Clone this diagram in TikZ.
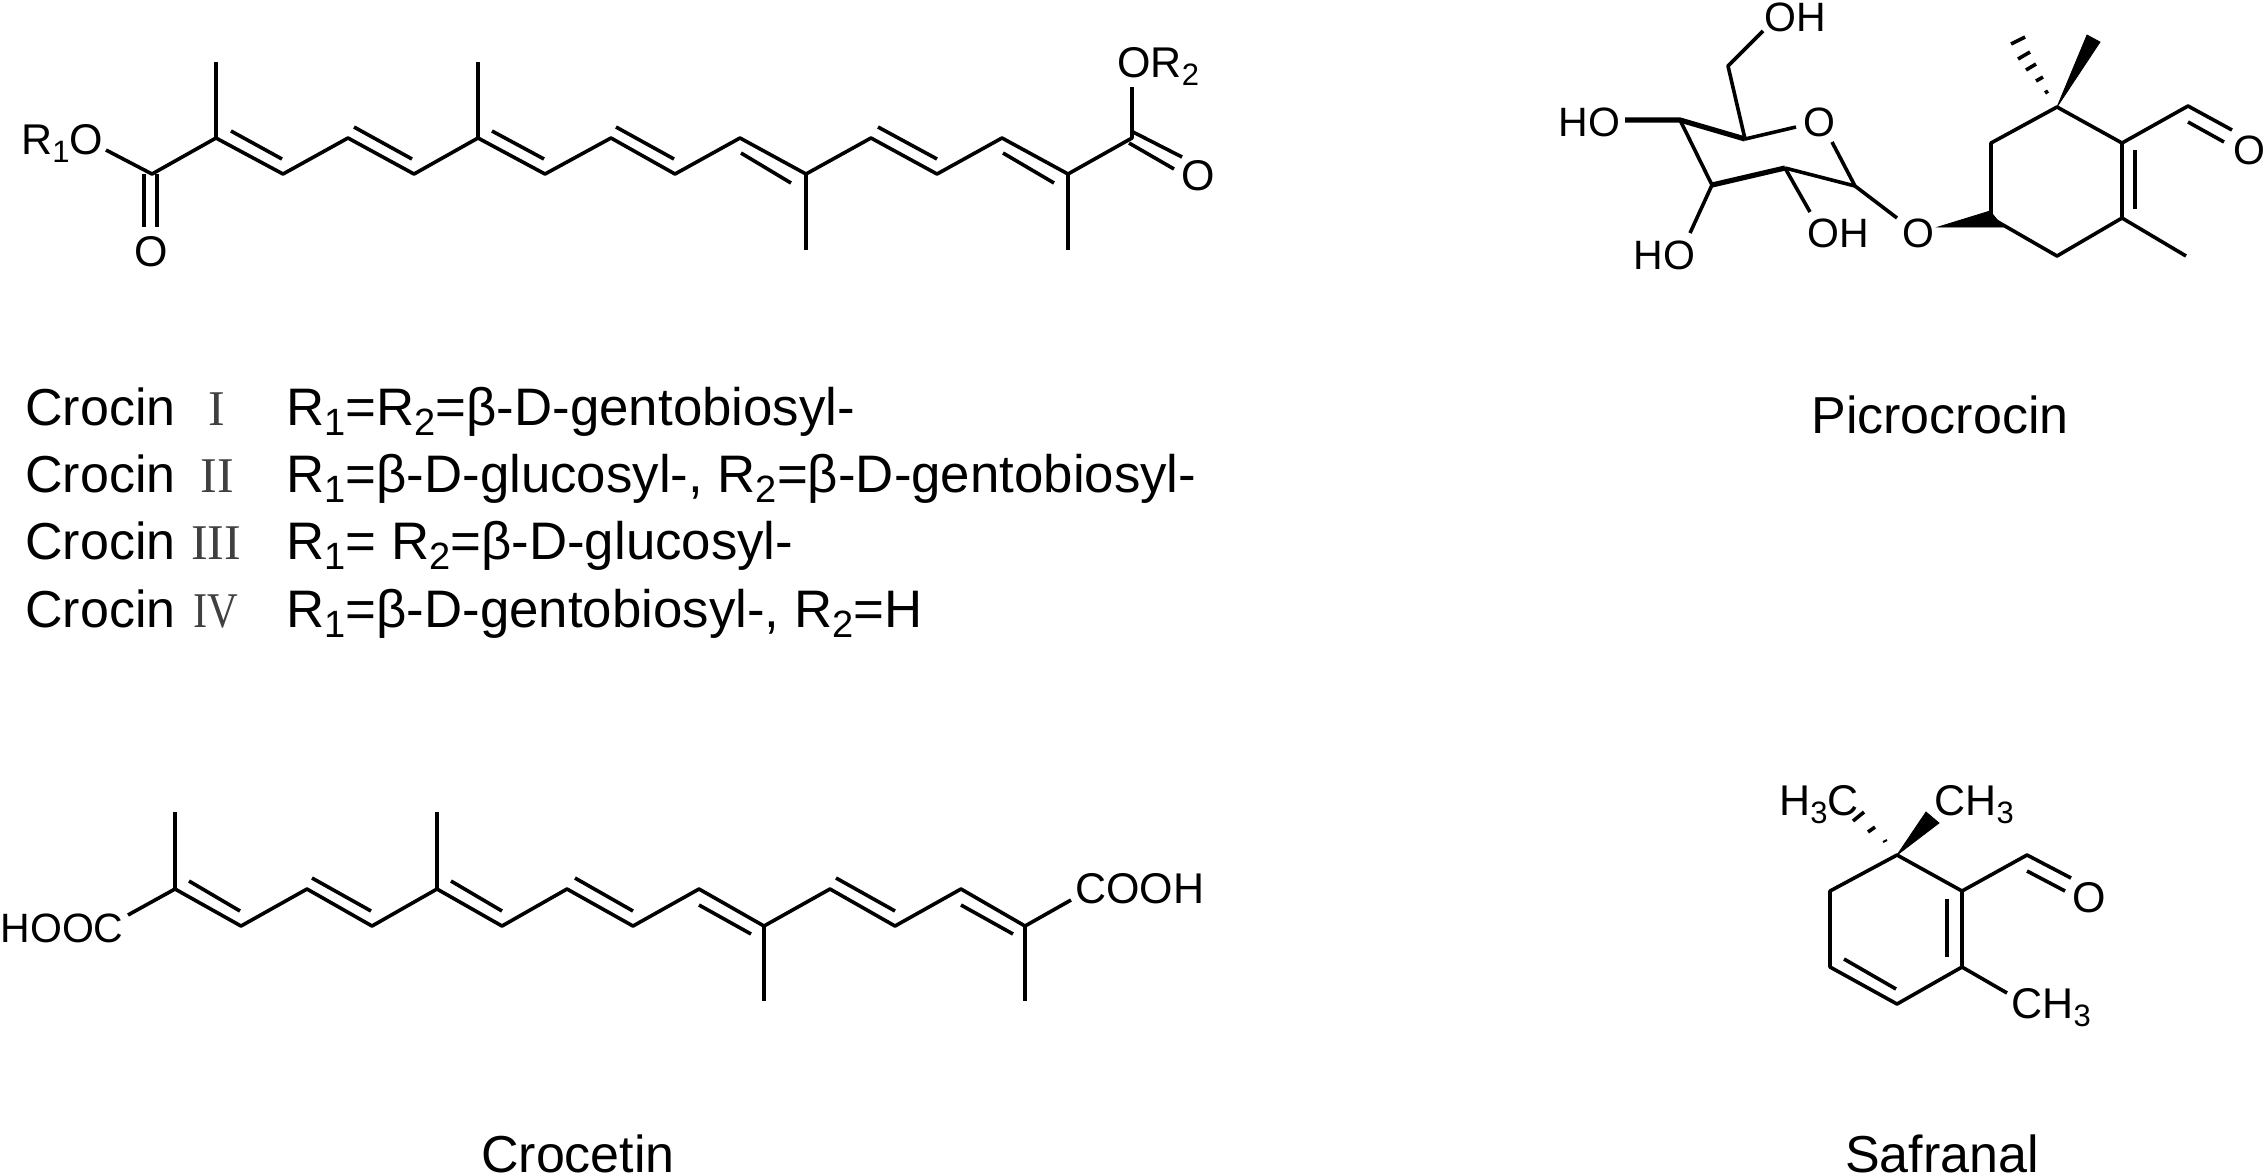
\documentclass[tikz,border=0pt]{standalone}
\usepackage{fontspec}
\setmainfont{Liberation Sans}
\newfontfamily\romanfont{Liberation Serif}
\newcommand{\sbs}[1]{\raisebox{-.2em}{\scalebox{.72}{#1}}}
\tikzset
{
    bond/.style    = {line width=1.8pt, line join=round},
    thickbond/.style = {line width=2.6pt, line join=round},
    wedge/.style   = {fill=black, draw=black, line width=.4pt},
    atom/.style    = {inner sep=0pt, font=\fontsize{21.5}{26}\selectfont},
    sugaratom/.style = {inner sep=0pt, font=\fontsize{20.5}{25}\selectfont},
    caption/.style = {inner sep=0pt, anchor=base, font=\fontsize{26}{31}\selectfont},
    entry/.style   = {inner sep=0pt, anchor=base west, font=\fontsize{26}{31}\selectfont},
    formula/.style = {inner sep=0pt, anchor=base west, font=\fontsize{26.4}{31}\selectfont},
    numeral/.style = {inner sep=0pt, anchor=base, text=black!75, font=\romanfont\fontsize{25}{30}\selectfont}
}

\begin{document}
\begin{tikzpicture}[x=.5pt, y=-.5pt]
\useasboundingbox (0,0) rectangle (2264,1175);

% crocin chain
\coordinate (a1) at (152,174); \coordinate (a2) at (216,138); \coordinate (a3) at (283,174);
\coordinate (a4) at (348,138); \coordinate (a5) at (414,174); \coordinate (a6) at (478,138);
\coordinate (a7) at (545,174); \coordinate (a8) at (611,138); \coordinate (a9) at (675,174);
\coordinate (a10) at (740,138); \coordinate (a11) at (806,174); \coordinate (a12) at (871,138);
\coordinate (a13) at (937,174); \coordinate (a14) at (1002,138); \coordinate (a15) at (1068,174);
\coordinate (a16) at (1132,138);
\coordinate (am2) at (216,62); \coordinate (am6) at (478,62);
\coordinate (am11) at (806,250); \coordinate (am15) at (1068,250);
\coordinate (aol) at (106,150); \coordinate (aor) at (1132,87);
\draw[bond] (aol) -- (a1) -- (a2) -- (a3) -- (a4) -- (a5) -- (a6) -- (a7) -- (a8) -- (a9)
  -- (a10) -- (a11) -- (a12) -- (a13) -- (a14) -- (a15) -- (a16) -- (aor);
\draw[bond] (a2) -- (am2);
\draw[bond] (a6) -- (am6);
\draw[bond] (a11) -- (am11);
\draw[bond] (a15) -- (am15);
% inner lines of the double bonds
\coordinate (ai1) at (231,131); \coordinate (aj1) at (282,159);
\coordinate (ai2) at (354,127); \coordinate (aj2) at (412,159);
\coordinate (ai3) at (492,131); \coordinate (aj3) at (544,159);
\coordinate (ai4) at (616,127); \coordinate (aj4) at (674,159);
\coordinate (ai5) at (741,153); \coordinate (aj5) at (791,183);
\coordinate (ai6) at (878,127); \coordinate (aj6) at (937,159);
\coordinate (ai7) at (1003,153); \coordinate (aj7) at (1054,183);
\draw[bond] (ai1) -- (aj1);
\draw[bond] (ai2) -- (aj2);
\draw[bond] (ai3) -- (aj3);
\draw[bond] (ai4) -- (aj4);
\draw[bond] (ai5) -- (aj5);
\draw[bond] (ai6) -- (aj6);
\draw[bond] (ai7) -- (aj7);
% carbonyl groups
\coordinate (ac1) at (144,174); \coordinate (ac2) at (144,227);
\coordinate (ac3) at (157,174); \coordinate (ac4) at (157,227);
\coordinate (ac5) at (1133,132); \coordinate (ac6) at (1182,157);
\coordinate (ac7) at (1129,143); \coordinate (ac8) at (1174,169);
\draw[bond] (ac1) -- (ac2);
\draw[bond] (ac3) -- (ac4);
\draw[bond] (ac5) -- (ac6);
\draw[bond] (ac7) -- (ac8);
\node[atom, anchor=base west] (rone) at (21,154) {R\sbs{1}O};
\node[atom] (oleft) at (151,252) {O};
\node[atom, anchor=base west] (rtwo) at (1117,77) {OR\sbs{2}};
\node[atom] (oright) at (1198,176) {O};

% crocin table
\node[entry] (cone) at (25,425) {Crocin};
\node[entry] (ctwo) at (25,492) {Crocin};
\node[entry] (cthree) at (25,559) {Crocin};
\node[entry] (cfour) at (25,627) {Crocin};
\node[numeral] (none) at (217,425) {I};
\node[numeral] (ntwo) at (217,492) {II};
\node[numeral] (nthree) at (216,559) {III};
\node[numeral] (nfour) at (216,627) {\scalebox{.85}[1]{IV}};
\node[formula] (rcone) at (286,425) {R\sbs{1}=R\sbs{2}=β-D-gentobiosyl-};
\node[formula] (rctwo) at (286,492) {R\sbs{1}=β-D-glucosyl-, R\sbs{2}=β-D-gentobiosyl-};
\node[formula] (rcthree) at (286,559) {R\sbs{1}= R\sbs{2}=β-D-glucosyl-};
\node[formula] (rcfour) at (286,627) {R\sbs{1}=β-D-gentobiosyl-, R\sbs{2}=H};

% crocetin chain
\coordinate (b1) at (175,889); \coordinate (b2) at (241,926); \coordinate (b3) at (307,889);
\coordinate (b4) at (372,926); \coordinate (b5) at (437,889); \coordinate (b6) at (502,926);
\coordinate (b7) at (567,889); \coordinate (b8) at (633,926); \coordinate (b9) at (699,889);
\coordinate (b10) at (764,926); \coordinate (b11) at (830,889); \coordinate (b12) at (895,926);
\coordinate (b13) at (961,889); \coordinate (b14) at (1025,926);
\coordinate (bm1) at (175,812); \coordinate (bm5) at (437,812);
\coordinate (bm10) at (764,1001); \coordinate (bm14) at (1025,1001);
\coordinate (bol) at (128,915); \coordinate (bor) at (1071,900);
\draw[bond] (bol) -- (b1) -- (b2) -- (b3) -- (b4) -- (b5) -- (b6) -- (b7) -- (b8) -- (b9)
  -- (b10) -- (b11) -- (b12) -- (b13) -- (b14) -- (bor);
\draw[bond] (b1) -- (bm1);
\draw[bond] (b5) -- (bm5);
\draw[bond] (b10) -- (bm10);
\draw[bond] (b14) -- (bm14);
\coordinate (bi1) at (189,881); \coordinate (bj1) at (240,911);
\coordinate (bi2) at (312,878); \coordinate (bj2) at (371,911);
\coordinate (bi3) at (451,881); \coordinate (bj3) at (502,911);
\coordinate (bi4) at (575,878); \coordinate (bj4) at (633,911);
\coordinate (bi5) at (699,905); \coordinate (bj5) at (751,934);
\coordinate (bi6) at (836,878); \coordinate (bj6) at (895,911);
\coordinate (bi7) at (961,905); \coordinate (bj7) at (1013,934);
\draw[bond] (bi1) -- (bj1);
\draw[bond] (bi2) -- (bj2);
\draw[bond] (bi3) -- (bj3);
\draw[bond] (bi4) -- (bj4);
\draw[bond] (bi5) -- (bj5);
\draw[bond] (bi6) -- (bj6);
\draw[bond] (bi7) -- (bj7);
\node[sugaratom, anchor=base east] (hooc) at (124,942) {HOOC};
\node[atom, anchor=base west] (cooh) at (1075,903) {COOH};

% picrocrocin, sugar ring
\coordinate (s1) at (1855,186); \coordinate (s2) at (1785,168); \coordinate (s3) at (1712,185);
\coordinate (s4) at (1680,120); \coordinate (s5) at (1745,139); \coordinate (s6) at (1728,66);
\coordinate (so1) at (1796,127); \coordinate (so2) at (1832,142); \coordinate (so3) at (1897,218);
\coordinate (so4) at (1763,31); \coordinate (so5) at (1625,120); \coordinate (so6) at (1690,233);
\coordinate (so7) at (1810,212);
\draw[bond] (so4) -- (s6) -- (s5) -- (so1);
\draw[bond] (so2) -- (s1) -- (so3);
\draw[bond] (s4) -- (s3) -- (so6);
\draw[bond] (s2) -- (so7);
\draw[bond] (s2) -- (s1);
\draw[thickbond] (so5) -- (s4) -- (s5);
\draw[thickbond] (s3) -- (s2);
\node[sugaratom, anchor=base west] (oha) at (1764,31) {OH};
\node[sugaratom, anchor=base west] (hob) at (1558,136) {HO};
\node[sugaratom, anchor=base west] (hoc) at (1633,269) {HO};
\node[sugaratom, anchor=base west] (ohd) at (1807,247) {OH};
\node[sugaratom] (osugar) at (1819,122) {O};
\node[sugaratom] (oglyc) at (1918,233) {O};

% picrocrocin, carbon ring
\coordinate (p1) at (1991,143); \coordinate (p2) at (2057,107); \coordinate (p3) at (2122,143);
\coordinate (p4) at (2122,218); \coordinate (p5) at (2057,256); \coordinate (p6) at (1991,218);
\coordinate (p7) at (2188,106); \coordinate (p8) at (2232,130); \coordinate (p9) at (2186,256);
\coordinate (pi1) at (2135,150); \coordinate (pi2) at (2135,209);
\coordinate (pi3) at (2188,122); \coordinate (pi4) at (2224,142);
\draw[bond] (p1) -- (p2) -- (p3) -- (p4) -- (p5) -- (p6) -- cycle;
\draw[bond] (p3) -- (p7) -- (p8);
\draw[bond] (p4) -- (p9);
\draw[bond] (pi1) -- (pi2);
\draw[bond] (pi3) -- (pi4);
\coordinate (pw1) at (2087,35); \coordinate (pw2) at (2100,42);
\coordinate (pw3) at (1938,227); \coordinate (pw4) at (1990,211); \coordinate (pw5) at (2003,227);
\draw[wedge] (p2) -- (pw1) -- (pw2) -- cycle;
\draw[wedge] (pw3) -- (pw4) -- (pw5) -- cycle;
\draw[bond] (2045,93) -- (2048,91);
\draw[bond] (2036,81) -- (2043,77);
\draw[bond] (2026,70) -- (2036,64);
\draw[bond] (2018,59) -- (2030,52);
\draw[bond] (2011,44) -- (2025,37);
\node[sugaratom] (oald) at (2249,150) {O};

% safranal
\coordinate (t1) at (1897,855); \coordinate (t2) at (1962,891); \coordinate (t3) at (1962,967);
\coordinate (t4) at (1897,1004); \coordinate (t5) at (1830,967); \coordinate (t6) at (1830,891);
\coordinate (t7) at (2027,855); \coordinate (t8) at (2071,878); \coordinate (t9) at (2007,993);
\coordinate (ti1) at (1947,899); \coordinate (ti2) at (1947,957);
\coordinate (ti3) at (1844,959); \coordinate (ti4) at (1896,989);
\coordinate (ti5) at (2027,871); \coordinate (ti6) at (2065,891);
\draw[bond] (t1) -- (t2) -- (t3) -- (t4) -- (t5) -- (t6) -- cycle;
\draw[bond] (t2) -- (t7) -- (t8);
\draw[bond] (t3) -- (t9);
\draw[bond] (ti1) -- (ti2);
\draw[bond] (ti3) -- (ti4);
\draw[bond] (ti5) -- (ti6);
\coordinate (tw1) at (1926,812); \coordinate (tw2) at (1939,823);
\draw[wedge] (t1) -- (tw1) -- (tw2) -- cycle;
\draw[line width=1pt] (1883,842) -- (1887,840);
\draw[bond] (1868,832) -- (1875,827);
\draw[bond] (1853,821) -- (1864,812);
\node[atom, anchor=base west] (hthree) at (1779,815) {H\sbs{3}C};
\node[atom, anchor=base west] (cthreea) at (1934,815) {CH\sbs{3}};
\node[atom, anchor=base west] (cthreeb) at (2011,1018) {CH\sbs{3}};
\node[atom] (osaf) at (2089,898) {O};

% captions
\node[caption] (picro) at (1940,433) {Picrocrocin};
\node[caption] (croce) at (578,1172) {Crocetin};
\node[caption] (safra) at (1942,1172) {Safranal};
\end{tikzpicture}
\end{document}
